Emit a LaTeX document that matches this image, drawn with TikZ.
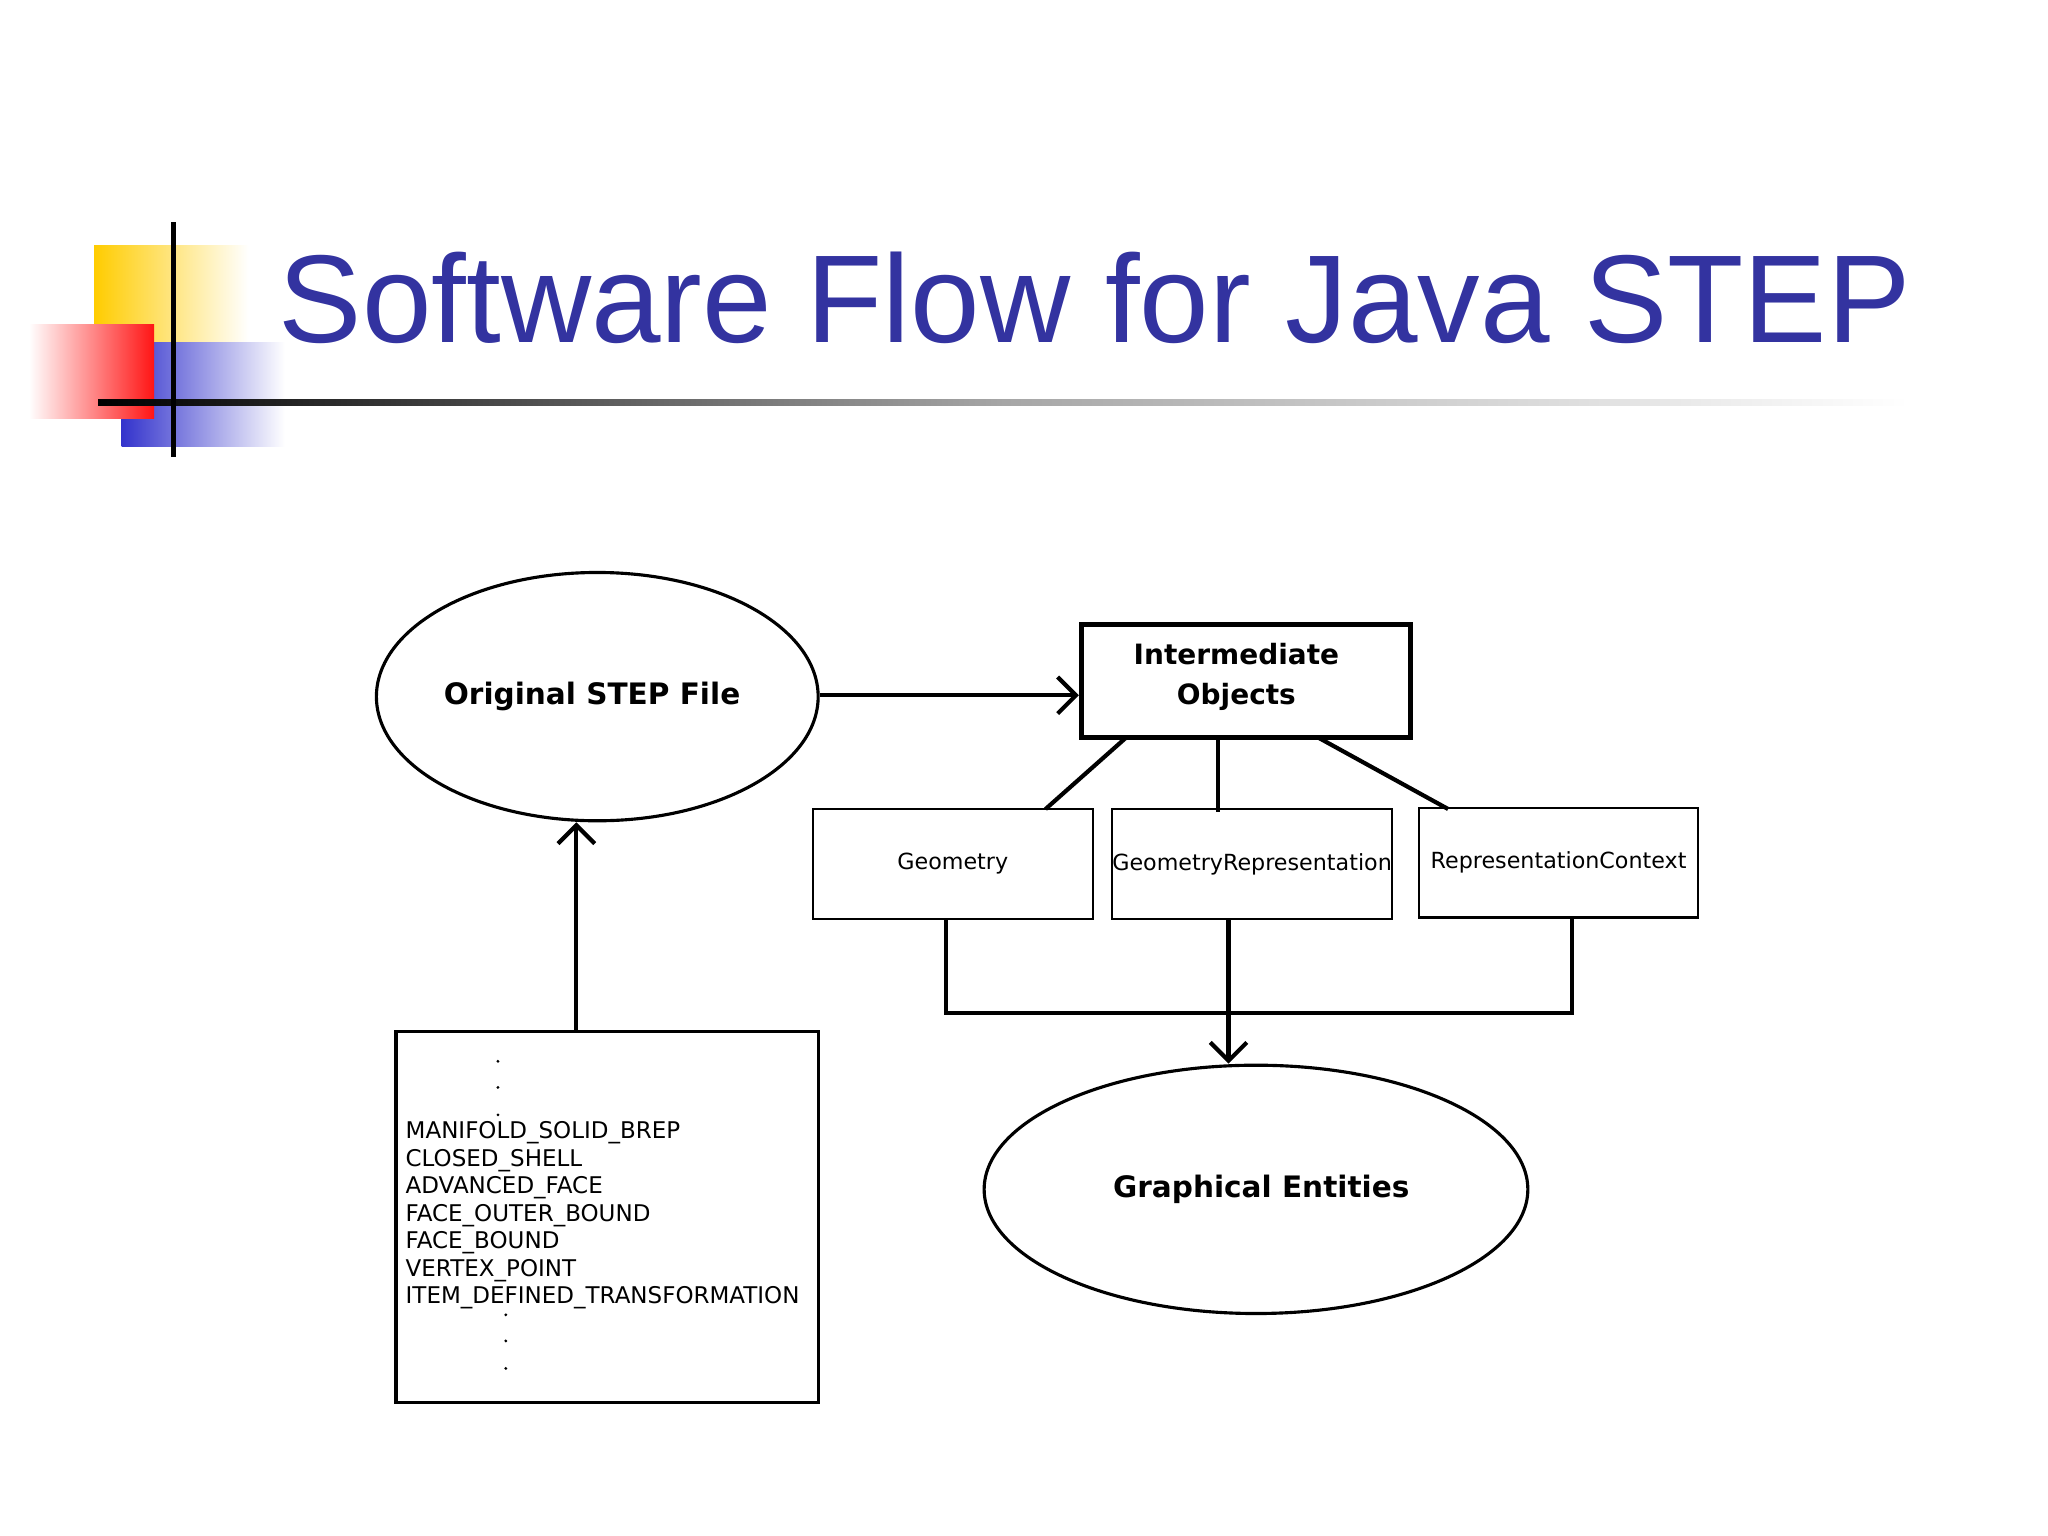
\documentclass[tikz,border=0pt]{standalone}
\usepackage{fontspec}
\setmainfont{Liberation Sans}
\newfontfamily\djfont{DejaVu Sans}
\usetikzlibrary{arrows.meta,shapes.geometric}
\definecolor{tblue}{RGB}{51,51,160}
\definecolor{lyel}{RGB}{255,204,0}
\definecolor{lred}{RGB}{255,20,20}
\definecolor{lblu}{RGB}{51,51,204}
\begin{document}
\begin{tikzpicture}[x=0.5pt,y=-0.5pt,
 ln/.style={line width=1.6pt},
 arr/.style={ln,-{Straight Barb[length=7pt,width=14pt,line width=1.6pt]}},
 box/.style={draw,line width=0.8pt,inner sep=0pt},
 big/.style={font=\djfont\bfseries\fontsize{11.3}{13}\selectfont},
 sm/.style={font=\djfont\fontsize{8.5}{9}\selectfont},
 lst/.style={font=\djfont\fontsize{8.8}{9}\selectfont}]
\useasboundingbox (0,0) rectangle (1567,1175);
% logo
\shade[left color=lyel,right color=white] (72,188) rectangle (190,300);
\shade[left color=lblu,right color=white] (93,262) rectangle (218,342);
\shade[left color=white,right color=lred] (22,248) rectangle (118,320);
\shade[left color=black,right color=white,middle color=gray!70] (75,306) rectangle (1460,310);
\fill (131,170) rectangle (135,350);
\node[anchor=west,text=tblue,font=\fontsize{47.8}{50}\selectfont,inner sep=0pt] (title) at (213,228) {Software Flow for Java STEP};
% diagram
\node[draw,ellipse,line width=1.2pt,minimum width=169pt,minimum height=95pt] (orig) at (457,533) {};
\node[big] at (453,533) {Original STEP File};
\node[draw,rectangle,line width=2pt,minimum width=126pt,minimum height=43pt,inner sep=0pt] (inter) at (953.5,521) {};
\node[align=center,font=\djfont\bfseries\fontsize{10.7}{13}\selectfont] at (946,518) {Intermediate\\[2.5pt] Objects};
\node[box,minimum width=107pt,minimum height=42pt,sm] (geo) at (729,661) {Geometry};
\node[box,minimum width=107pt,minimum height=42pt,sm] (grep) at (958,661) {GeometryRepresentation};
\node[box,minimum width=107pt,minimum height=42pt,sm] (rctx) at (1192.5,660) {RepresentationContext};
\node[draw,ellipse,line width=1.2pt,minimum width=208pt,minimum height=95pt] (graph) at (961,910) {};
\node[big] at (965,910) {Graphical Entities};
\node[box,line width=1.2pt,minimum width=161.5pt,minimum height=142pt] (list) at (464.5,931) {};
\draw[arr] (orig.east |- 0,532) -- (inter.west |- 0,532);
\draw[arr] (list.north -| 441,0) -- (orig.south -| 441,0);
\draw[ln] (862,564) -- (800,619);
\draw[ln] (932,564) -- (932,621);
\draw[ln] (1008,564) -- (1108,619);
\draw[ln] (724,703) -- (724,775) -- (1203,775) -- (1203,702);
\draw[arr] (940,703) -- (graph.north -| 940,0);
\foreach \y/\t in {867/MANIFOLD\_SOLID\_BREP,888/CLOSED\_SHELL,909/ADVANCED\_FACE,930/FACE\_OUTER\_BOUND,951/FACE\_BOUND,972/VERTEX\_POINT,993/ITEM\_DEFINED\_TRANSFORMATION}
  \node[anchor=west,inner sep=0pt,lst] at (310,\y) {\t};
\foreach \y in {812,832,853} \fill (381,\y) circle (1.2);
\foreach \y in {1006,1026,1047} \fill (387,\y) circle (1.2);
\end{tikzpicture}
\end{document}
